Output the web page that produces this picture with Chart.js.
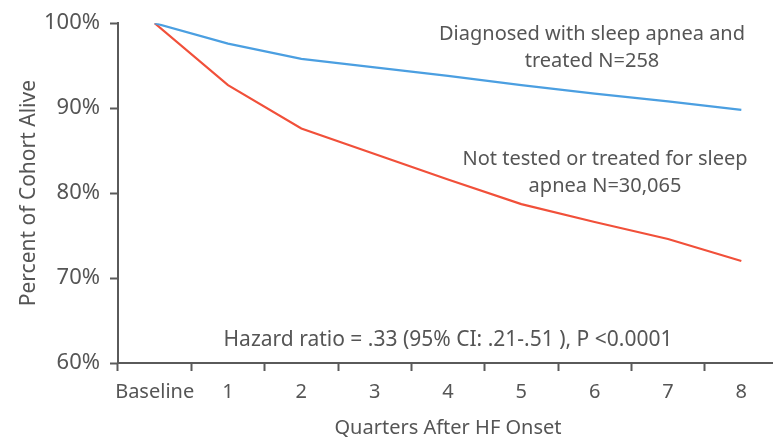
<!DOCTYPE html>
<html>
<head>
<meta charset="utf-8">
<script src="https://cdn.jsdelivr.net/npm/chart.js@4/dist/chart.umd.min.js"></script>
<style>
  html, body { margin: 0; padding: 0; background: #fff; overflow: hidden; }
  #wrap { width: 780px; height: 443px; position: relative; }
</style>
</head>
<body>
<div id="wrap"><canvas id="c"></canvas></div>
<script>
// Survival by quarter after heart-failure onset
const quarters = ['Baseline', '1', '2', '3', '4', '5', '6', '7', '8'];
const treatedAlive = [100, 97.6, 95.8, 94.8, 93.8, 92.7, 91.7, 90.8, 89.8];
const untreatedAlive = [100, 92.7, 87.6, 84.6, 81.6, 78.7, 76.6, 74.6, 72.0];
const yTicks = [60, 70, 80, 90, 100];

const treatedLabel = ['Diagnosed with sleep apnea and', 'treated N=258'];
const untreatedLabel = ['Not tested or treated for sleep', 'apnea N=30,065'];
const hazardNote = 'Hazard ratio = .33 (95% CI: .21-.51 ), P <0.0001';

const FONT = "'Noto Sans', 'Open Sans', sans-serif";
const TEXT = '#555555';
const AXIS = '#5a5a5a';

// Centered multi-line text blocks inside the plot
const notes = {
  id: 'notes',
  afterDraw(chart) {
    const { ctx, chartArea } = chart;
    ctx.save();
    ctx.fillStyle = TEXT;
    ctx.textAlign = 'center';
    ctx.textBaseline = 'middle';
    ctx.font = '20px ' + FONT;
    const block = (lines, cx, cy, gap) => {
      lines.forEach((t, i) => ctx.fillText(t, cx, cy + i * gap));
    };
    block(treatedLabel, 592, 34, 27);
    block(untreatedLabel, 605, 159, 27);
    ctx.font = '21px ' + FONT;
    ctx.fillText(hazardNote, (chartArea.left + chartArea.right) / 2, 340);
    ctx.restore();
  }
};

new Chart(document.getElementById('c'), {
  type: 'line',
  data: {
    labels: quarters,
    datasets: [
      { data: treatedAlive, borderColor: '#4b9fe1', borderWidth: 2.2, pointRadius: 0, tension: 0 },
      { data: untreatedAlive, borderColor: '#f1503a', borderWidth: 2.2, pointRadius: 0, tension: 0 }
    ]
  },
  options: {
    responsive: true,
    maintainAspectRatio: false,
    animation: false,
    layout: { padding: { top: 20, right: 2, left: 0, bottom: 0 } },
    plugins: { legend: { display: false }, tooltip: { enabled: false } },
    scales: {
      x: {
        type: 'category',
        offset: true,
        afterFit(scale) { scale.height = 80; },
        grid: { offset: true, drawOnChartArea: false, drawTicks: true, tickLength: 8, tickColor: AXIS, tickWidth: 2 },
        border: { color: AXIS, width: 2 },
        ticks: { color: TEXT, font: { family: FONT, size: 20 }, padding: 9, maxRotation: 0, autoSkip: false },
        title: { display: true, text: 'Quarters After HF Onset', color: TEXT, font: { family: FONT, size: 20 }, padding: { top: 8, bottom: 3 } }
      },
      y: {
        min: 60,
        max: 100,
        afterFit(scale) { scale.width = 118; },
        afterBuildTicks(scale) { scale.ticks = yTicks.map(v => ({ value: v })); },
        grid: { drawOnChartArea: false, drawTicks: true, tickLength: 8, tickColor: AXIS, tickWidth: 2 },
        border: { color: AXIS, width: 2 },
        ticks: { color: TEXT, font: { family: FONT, size: 22 }, padding: 10, callback: v => v + '%' },
        title: { display: true, text: 'Percent of Cohort Alive', color: TEXT, font: { family: FONT, size: 21 }, padding: { top: 16, bottom: 2 } }
      }
    }
  },
  plugins: [notes]
});
</script>
</body>
</html>
